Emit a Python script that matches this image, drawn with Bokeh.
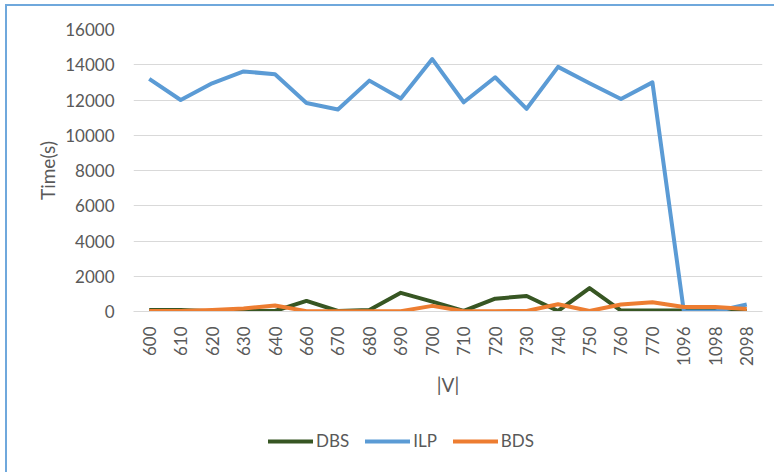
from bokeh.plotting import figure
from bokeh.layouts import column
from bokeh.models import ColumnDataSource, FactorRange, Range1d, Legend, LegendItem, SingleIntervalTicker
from bokeh.embed import file_html
from bokeh.resources import INLINE
from math import pi

categories = ["600", "610", "620", "630", "640", "660", "670", "680", "690", "700",
              "710", "720", "730", "740", "750", "760", "770", "1096", "1098", "2098"]
dbs = [80, 80, 20, 40, 30, 600, 30, 80, 1060, 560, 30, 730, 880, 30, 1330, 50, 50, 50, 30, 30]
ilp = [13200, 12000, 12950, 13620, 13460, 11830, 11460, 13100, 12080, 14320,
       11870, 13290, 11500, 13880, 12950, 12060, 13000, 0, 0, 400]
bds = [30, 30, 90, 170, 340, 20, 20, 20, 20, 320, 20, 20, 30, 410, 30, 400, 530, 260, 250, 140]
series_names = ["DBS", "ILP", "BDS"]
series_colors = ["#375623", "#5B9BD5", "#ED7D31"]

FONT = "Lato"
TXT = "#595959"
LW = 4

src = ColumnDataSource(dict(x=categories, DBS=dbs, ILP=ilp, BDS=bds))

p = figure(width=767, height=416, x_range=FactorRange(*categories, range_padding=0),
           y_range=Range1d(0, 16000), output_backend="svg", toolbar_location=None,
           min_border_left=126, min_border_right=12, min_border_top=23, min_border_bottom=111)
p.outline_line_color = None

for name, col in zip(series_names, series_colors):
    p.line("x", name, source=src, line_color=col, line_width=LW, line_join="round")

p.yaxis.ticker = SingleIntervalTicker(interval=2000)
p.yaxis.axis_line_color = None
p.yaxis.major_tick_line_color = None
p.yaxis.minor_tick_line_color = None
p.yaxis.major_label_standoff = 13
p.yaxis.axis_label = "Time(s)"
p.yaxis.axis_label_standoff = 3

p.xaxis.axis_line_color = "#D9D9D9"
p.xaxis.major_tick_line_color = None
p.xaxis.major_label_orientation = pi / 2
p.xaxis.major_label_standoff = 9
p.xaxis.axis_label = "|V|"
p.xaxis.axis_label_standoff = 4

for ax in (p.xaxis, p.yaxis):
    ax.major_label_text_font = FONT
    ax.major_label_text_font_size = "17px"
    ax.major_label_text_color = TXT
    ax.axis_label_text_font = FONT
    ax.axis_label_text_font_size = "19px"
    ax.axis_label_text_font_style = "normal"
    ax.axis_label_text_color = TXT

p.xgrid.grid_line_color = None
p.ygrid.grid_line_color = "#D9D9D9"
p.ygrid.grid_line_width = 1

# legend strip below the chart (its renderers hold no visible data)
lg = figure(width=767, height=50, x_range=Range1d(0, 1), y_range=Range1d(0, 1),
            output_backend="svg", toolbar_location=None, x_axis_type=None, y_axis_type=None,
            min_border_left=126, min_border_right=12, min_border_top=0, min_border_bottom=12)
lg.outline_line_color = None
lg.xgrid.grid_line_color = None
lg.ygrid.grid_line_color = None
items = []
for name, col in zip(series_names, series_colors):
    r = lg.line(x=[5], y=[5], line_color=col, line_width=LW, line_cap="round")
    items.append(LegendItem(label=name, renderers=[r]))
legend = Legend(items=items, orientation="horizontal", location=(135, 9),
                border_line_color=None, background_fill_alpha=0,
                padding=0, margin=0, spacing=16, glyph_width=45, label_standoff=3,
                label_text_font=FONT, label_text_font_size="17px", label_text_color=TXT)
lg.add_layout(legend, "center")

layout = column(p, lg, spacing=0)
layout.styles = {"margin-left": "5px", "margin-top": "4px",
                 "border-left": "2px solid #6FA8DC", "border-top": "2px solid #6FA8DC"}

open("out.html", "w").write(file_html(layout, INLINE))
